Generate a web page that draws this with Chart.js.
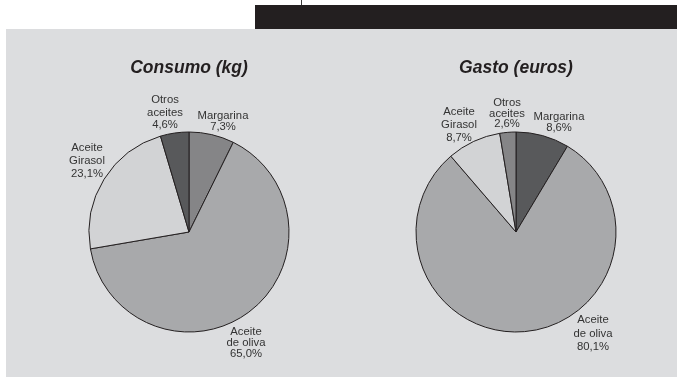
<!DOCTYPE html>
<html>
<head>
<meta charset="utf-8">
<script src="https://cdn.jsdelivr.net/npm/chart.js@4/dist/chart.umd.min.js"></script>
<style>
  html, body { margin: 0; padding: 0; background: #ffffff; }
  body { width: 677px; height: 378px; position: relative; overflow: hidden; }
  #panel { position: absolute; left: 6px; top: 29px; width: 671px; height: 348px; background: #dcdddf; }
  #bar { position: absolute; left: 255px; top: 5px; width: 422px; height: 24px; background: #231f20; }
  #tick { position: absolute; left: 301px; top: 0; width: 1px; height: 5px; background: #3a3a3a; }
  #c1 { position: absolute; left: 0; top: 0; }
  #c2 { position: absolute; left: 345px; top: 0; }
</style>
</head>
<body>
<div id="panel"></div>
<div id="bar"></div>
<div id="tick"></div>
<canvas id="c1" width="345" height="378"></canvas>
<canvas id="c2" width="332" height="378"></canvas>
<script>
// ---- data ----
const categories = ['Margarina', 'Aceite de oliva', 'Aceite Girasol', 'Otros aceites'];
const consumoValues = [7.3, 65.0, 23.1, 4.6];
const gastoValues = [8.6, 80.1, 8.7, 2.6];
const consumoTitle = 'Consumo (kg)';
const gastoTitle = 'Gasto (euros)';

// ---- styles ----
const consumoColors = ['#858587', '#a8a9ab', '#d2d3d5', '#58595b'];
const gastoColors = ['#58595b', '#a8a9ab', '#d2d3d5', '#858587'];

// label offsets relative to pie centre (first line centre) and line heights
const consumoLabelPos = [
  { dx: 34, dy: -116, lh: 11 },
  { dx: 57, dy: 100, lh: 10.7 },
  { dx: -102, dy: -84, lh: 13 },
  { dx: -24, dy: -132, lh: 12.5 }
];
const gastoLabelPos = [
  { dx: 43, dy: -115, lh: 11 },
  { dx: 77, dy: 88, lh: 13.5 },
  { dx: -57, dy: -120, lh: 13 },
  { dx: -9, dy: -129, lh: 10.5 }
];

const fmt = v => v.toFixed(1).replace('.', ',') + '%';
const splitName = s => {
  const k = s.indexOf(' ');
  return k < 0 ? [s] : [s.slice(0, k), s.slice(k + 1)];
};

const pieLabels = {
  id: 'pieLabels',
  afterDatasetsDraw(chart, args, opts) {
    const ctx = chart.ctx;
    const meta = chart.getDatasetMeta(0);
    const data = chart.data.datasets[0].data;
    ctx.save();
    ctx.font = '11.3px "Liberation Sans", Arial, sans-serif';
    ctx.fillStyle = '#333333';
    ctx.textAlign = 'center';
    ctx.textBaseline = 'middle';
    meta.data.forEach((arc, i) => {
      const p = opts.pos[i];
      const lines = splitName(chart.data.labels[i]).concat([fmt(data[i])]);
      lines.forEach((t, j) => {
        ctx.fillText(t, arc.x + p.dx, arc.y + p.dy + j * p.lh);
      });
    });
    ctx.restore();
  }
};

function makePie(id, title, values, colors, pos, padL, padR) {
  return new Chart(document.getElementById(id), {
    type: 'pie',
    data: {
      labels: categories,
      datasets: [{
        data: values,
        backgroundColor: colors,
        borderColor: '#231f20',
        borderWidth: 1,
        radius: 100
      }]
    },
    options: {
      responsive: false,
      animation: false,
      events: [],
      layout: { padding: { left: padL, right: padR, top: 0, bottom: 0 } },
      plugins: {
        legend: { display: false },
        tooltip: { enabled: false },
        title: {
          display: true,
          text: title,
          color: '#231f20',
          font: { family: '"Liberation Sans", Arial, sans-serif', size: 17.5, weight: 'bold', style: 'italic', lineHeight: 1.2 },
          padding: { top: 57.5, bottom: 7.5 }
        },
        pieLabels: { pos: pos }
      }
    },
    plugins: [pieLabels]
  });
}

makePie('c1', consumoTitle, consumoValues, consumoColors, consumoLabelPos, 33, 0);
makePie('c2', gastoTitle, gastoValues, gastoColors, gastoLabelPos, 10, 0);
</script>
</body>
</html>
